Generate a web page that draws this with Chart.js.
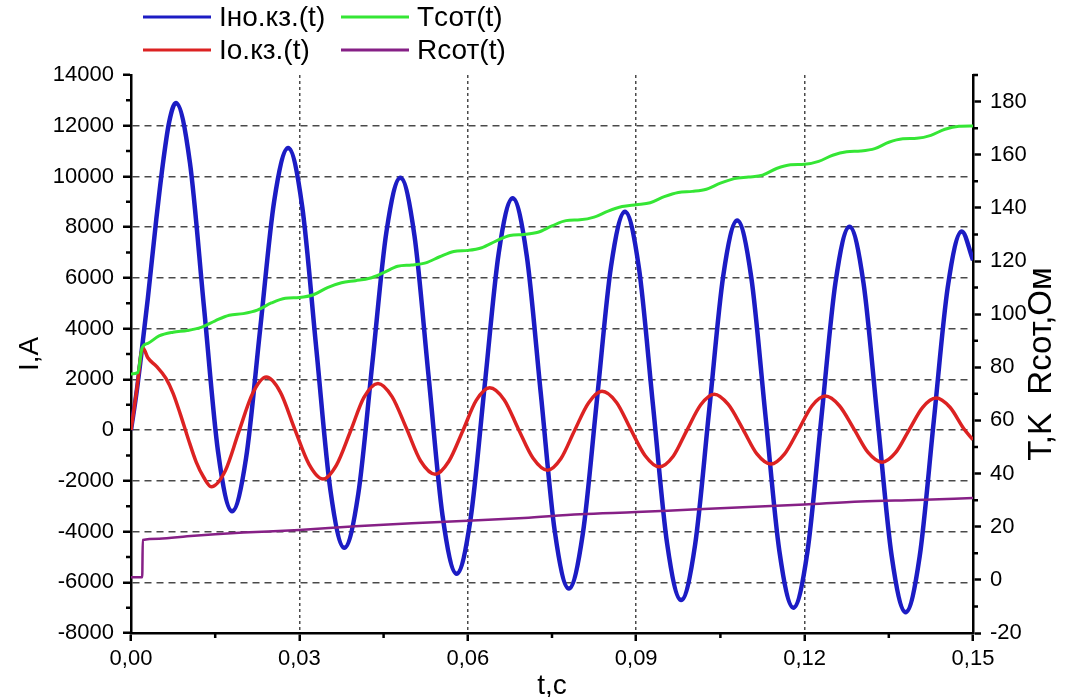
<!DOCTYPE html>
<html>
<head>
<meta charset="utf-8">
<title>Ток короткого замыкания</title>
<script src="https://cdn.jsdelivr.net/npm/chart.js@4.4.1/dist/chart.umd.min.js"></script>
<style>
  html, body { margin: 0; padding: 0; background: #fff; }
  #chart { display: block; }
</style>
</head>
<body>
<canvas id="chart" width="1076" height="697"></canvas>
<script>
// time, s / current, A  (Iно.кз.)
const tNoKz = [0, 0.001, 0.002, 0.003, 0.0045, 0.0058, 0.0068, 0.008,
  0.0105, 0.013, 0.0155, 0.018, 0.0205, 0.023, 0.0255, 0.028,
  0.0305, 0.033, 0.0355, 0.038, 0.0405, 0.043, 0.0455, 0.048,
  0.0505, 0.053, 0.0555, 0.058, 0.0605, 0.063, 0.0655, 0.068,
  0.0705, 0.073, 0.0755, 0.078, 0.0805, 0.083, 0.0855, 0.088,
  0.0905, 0.093, 0.0955, 0.098, 0.1005, 0.103, 0.1055, 0.108,
  0.1105, 0.113, 0.1155, 0.118, 0.1205, 0.123, 0.1255, 0.128,
  0.1305, 0.133, 0.1355, 0.138, 0.1405, 0.143, 0.1455, 0.148, 0.15];
const iNoKz = [0, 1500, 3300, 5200, 8300, 10700, 12150, 12900,
  10540, 4850, -840, -3200, -1100, 3960, 9020, 11120,
  8810, 3240, -2330, -4640, -2500, 2650, 7810, 9950,
  7660, 2150, -3370, -5660, -3490, 1740, 6970, 9140,
  6880, 1450, -4000, -6250, -4070, 1180, 6430, 8610,
  6370, 960, -4460, -6700, -4510, 780, 6070, 8260,
  6020, 630, -4760, -7000, -4800, 510, 5820, 8020,
  5790, 420, -4950, -7180, -4980, 330, 5630, 7830, 6700];

// time, s / current, A  (Iо.кз.)
const tOKz = [0, 0.001, 0.0021, 0.003, 0.0045, 0.0062, 0.0075, 0.0088,
  0.0102, 0.0116, 0.013, 0.0143, 0.0168, 0.0192, 0.0217, 0.0241,
  0.0266, 0.0291, 0.0317, 0.0342, 0.0366, 0.0391, 0.0415, 0.044,
  0.0465, 0.0491, 0.0516, 0.0542, 0.0566, 0.0591, 0.0615, 0.0639,
  0.0665, 0.069, 0.0716, 0.0742, 0.0766, 0.079, 0.0815, 0.0839,
  0.0865, 0.089, 0.0916, 0.0941, 0.0966, 0.099, 0.1015, 0.1039,
  0.1064, 0.109, 0.1115, 0.114, 0.1164, 0.1189, 0.1213, 0.1237,
  0.1262, 0.1288, 0.1313, 0.1338, 0.1362, 0.1386, 0.141, 0.1434,
  0.1459, 0.1484, 0.15];
const iOKz = [0, 1550, 3250, 2850, 2520, 2050, 1450, 620,
  -350, -1250, -1880, -2230, -1600, -70, 1460, 2090,
  1500, 80, -1340, -1930, -1380, -45, 1290, 1840,
  1320, 50, -1220, -1740, -1240, -35, 1170, 1670,
  1190, 45, -1100, -1580, -1120, -25, 1070, 1530,
  1090, 40, -1010, -1450, -1030, -20, 1000, 1415,
  1010, 40, -940, -1340, -950, 0, 950, 1340,
  960, 40, -880, -1265, -890, 0, 890, 1265,
  900, 40, -380];

// time, s / temperature, K  (Tсот)
const tTemp = [0, 0.0012, 0.002, 0.003, 0.005, 0.0075, 0.01, 0.0125,
  0.015, 0.0175, 0.02, 0.0225, 0.025, 0.0275, 0.03, 0.0325,
  0.035, 0.0375, 0.04, 0.0425, 0.045, 0.0475, 0.05, 0.0525,
  0.055, 0.0575, 0.06, 0.0625, 0.065, 0.0675, 0.07, 0.0725,
  0.075, 0.0775, 0.08, 0.0825, 0.085, 0.0875, 0.09, 0.0925,
  0.095, 0.0975, 0.1, 0.1025, 0.105, 0.1075, 0.11, 0.1125,
  0.115, 0.1175, 0.12, 0.1225, 0.125, 0.1275, 0.13, 0.1325,
  0.135, 0.1375, 0.14, 0.1425, 0.145, 0.1475, 0.15];
const tempCot = [77.5, 78, 87.5, 89, 91.8, 93.2, 93.8, 95,
  97.5, 99.6, 100.2, 101.5, 104.2, 106, 106.3, 107.3,
  110, 111.8, 112.6, 113.5, 115.6, 118, 118.5, 119.3,
  121.6, 123.6, 124, 125, 127.5, 129.6, 130, 130.8,
  133.2, 135.2, 135.5, 136.5, 138.8, 140.5, 141.2, 141.9,
  144.2, 145.8, 146.2, 147, 149.3, 151, 151.6, 152.3,
  154.8, 156.2, 156.4, 157.5, 159.8, 161.1, 161.4, 162.3,
  164.7, 166, 166.2, 167.3, 169.6, 170.7, 170.8];

// time, s / resistance, Ом  (Rсот)
const tRes = [0, 0.002, 0.0021, 0.005, 0.01, 0.015, 0.02, 0.03, 0.04,
  0.05, 0.06, 0.07, 0.08, 0.09, 0.1, 0.11, 0.12, 0.13, 0.14, 0.15];
const rCot = [1, 1, 15, 15.5, 16.4, 17.2, 17.8, 18.8, 20.2,
  21.3, 22.2, 23.3, 24.7, 25.5, 26.5, 27.4, 28.4, 29.5, 30.1, 30.8];

const xTicks = [0, 0.03, 0.06, 0.09, 0.12, 0.15];
const leftTicks = [-8000, -6000, -4000, -2000, 0, 2000, 4000, 6000, 8000, 10000, 12000, 14000];
const rightTicks = [-20, 0, 20, 40, 60, 80, 100, 120, 140, 160, 180];

const seriesLabels = ['Iно.кз.(t)', 'Iо.кз.(t)', 'Tсот(t)', 'Rсот(t)'];
const xTitle = 't,c';
const leftTitle = 'I,A';
const rightTitle = 'T,K  Rсот,Ом';

const FONT = "'Liberation Sans', Arial, sans-serif";
Chart.defaults.font.family = FONT;
Chart.defaults.color = '#000';

const pts = (xs, ys) => xs.map((x, i) => ({ x: x, y: ys[i] }));

// legend in two columns, minor ticks and the right-hand title
const decorations = {
  id: 'decorations',
  afterDraw(chart) {
    const ctx = chart.ctx;
    const slots = [[143, 17], [143, 50], [341, 17], [341, 50]];
    ctx.save();
    chart.data.datasets.forEach((ds, i) => {
      const [x, y] = slots[i];
      ctx.strokeStyle = ds.borderColor;
      ctx.lineWidth = 3;
      ctx.beginPath();
      ctx.moveTo(x, y);
      ctx.lineTo(x + 68, y);
      ctx.stroke();
      ctx.fillStyle = '#000';
      ctx.font = '28px ' + FONT;
      ctx.textAlign = 'left';
      ctx.textBaseline = 'middle';
      ctx.fillText(ds.label, x + 76, y + 1);
    });

    const xs = chart.scales.x, yl = chart.scales.y, yr = chart.scales.y1;
    const area = chart.chartArea;
    ctx.strokeStyle = '#000';
    ctx.lineWidth = 2.5;
    ctx.beginPath();
    for (let v = -7000; v <= 13000; v += 2000) {
      const py = yl.getPixelForValue(v);
      ctx.moveTo(area.left, py); ctx.lineTo(area.left - 5, py);
    }
    for (let v = -10; v <= 190; v += 20) {
      const py = yr.getPixelForValue(v);
      ctx.moveTo(area.right, py); ctx.lineTo(area.right + 5, py);
    }
    for (let k = 1; k < 10; k += 2) {
      const px = xs.getPixelForValue(k * 0.015);
      ctx.moveTo(px, area.bottom); ctx.lineTo(px, area.bottom + 5);
    }
    ctx.stroke();

    ctx.translate(1042, 364);
    ctx.rotate(-Math.PI / 2);
    ctx.font = '33px ' + FONT;
    ctx.textAlign = 'center';
    ctx.textBaseline = 'middle';
    ctx.fillStyle = '#000';
    ctx.fillText(rightTitle, 0, 0);
    ctx.restore();
  }
};

const lineSet = (label, data, color, width, axis, order) => ({
  label: label,
  data: data,
  borderColor: color,
  borderWidth: width,
  pointRadius: 0,
  fill: false,
  cubicInterpolationMode: 'monotone',
  yAxisID: axis,
  order: order
});

new Chart(document.getElementById('chart'), {
  type: 'line',
  data: {
    datasets: [
      lineSet(seriesLabels[0], pts(tNoKz, iNoKz), '#1c1cc4', 4.5, 'y', 4),
      lineSet(seriesLabels[1], pts(tOKz, iOKz), '#dc2222', 3.5, 'y', 3),
      lineSet(seriesLabels[2], pts(tTemp, tempCot), '#35e635', 3, 'y1', 2),
      lineSet(seriesLabels[3], pts(tRes, rCot), '#862086', 2.5, 'y1', 1)
    ]
  },
  options: {
    responsive: false,
    animation: false,
    layout: { padding: { top: 75, left: 0, right: 0, bottom: 0 } },
    plugins: {
      legend: { display: false },
      tooltip: { enabled: false }
    },
    scales: {
      x: {
        type: 'linear',
        min: 0,
        max: 0.15,
        afterBuildTicks: s => { s.ticks = xTicks.map(v => ({ value: v })); },
        afterFit: s => { s.height = 64; },
        ticks: {
          font: { size: 22 },
          padding: 5,
          maxRotation: 0,
          callback: v => v.toFixed(2).replace('.', ',')
        },
        grid: {
          color: c => (c.tick && (c.tick.value === 0 || c.tick.value === 0.15)) ? 'rgba(0,0,0,0)' : '#4a4a4a',
          lineWidth: 1.5,
          tickLength: 8,
          tickColor: '#000',
          tickWidth: 2.5
        },
        border: { display: true, color: '#000', width: 2.5, dash: [3, 3] },
        title: { display: true, text: xTitle, font: { size: 28, lineHeight: 0.8 }, padding: { top: 0, bottom: 0 } }
      },
      y: {
        position: 'left',
        min: -8000,
        max: 14000,
        afterBuildTicks: s => { s.ticks = leftTicks.map(v => ({ value: v })); },
        afterFit: s => { s.width = 131; },
        ticks: { font: { size: 22 }, padding: 9, callback: v => String(v) },
        grid: {
          color: c => (c.tick && (c.tick.value === -8000 || c.tick.value === 14000)) ? 'rgba(0,0,0,0)' : '#4a4a4a',
          lineWidth: 1.5,
          tickLength: 8,
          tickColor: '#000',
          tickWidth: 2.5
        },
        border: { display: true, color: '#000', width: 2.5, dash: [7, 5] },
        title: { display: true, text: leftTitle, font: { size: 28 }, padding: { top: 13 } }
      },
      y1: {
        position: 'right',
        min: -20,
        max: 190,
        afterBuildTicks: s => { s.ticks = rightTicks.map(v => ({ value: v })); },
        afterFit: s => { s.width = 103; },
        ticks: { font: { size: 22 }, padding: 9, callback: v => String(v) },
        grid: {
          drawOnChartArea: false,
          tickLength: 8,
          tickColor: '#000',
          tickWidth: 2.5
        },
        border: { display: true, color: '#000', width: 2.5 }
      }
    }
  },
  plugins: [decorations]
});
</script>
</body>
</html>
